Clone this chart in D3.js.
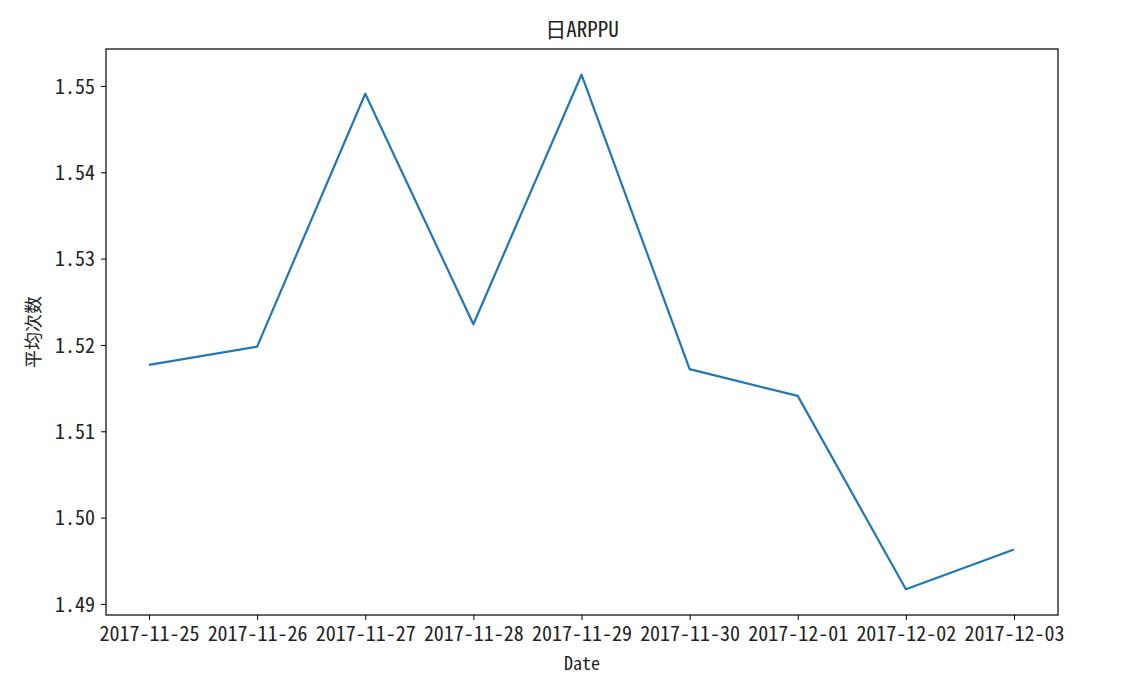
<!DOCTYPE html>
<html><head><meta charset="utf-8">
<script src="https://d3js.org/d3.v7.min.js"></script>
<style>body{margin:0;background:#fff;} text{font-family:"Noto Sans Mono CJK SC","Noto Sans CJK SC",sans-serif;fill:#222;}</style>
</head><body><svg id="c" width="1143" height="694"></svg>
<script>
const dates = ["2017-11-25","2017-11-26","2017-11-27","2017-11-28","2017-11-29","2017-11-30","2017-12-01","2017-12-02","2017-12-03"];
const values = [1.5177,1.5198,1.5491,1.5224,1.5513,1.5172,1.5141,1.4917,1.4963];
const yTicks = [1.49,1.50,1.51,1.52,1.53,1.54,1.55];
const title = "日ARPPU", xLabel = "Date", yLabel = "平均次数";

const svg = d3.select("#c");
const L=106, R=1058, T=49, B=615;
const x = d3.scalePoint().domain(dates).range([149,1014]);
const vmin=d3.min(values), vmax=d3.max(values), pad=(vmax-vmin)*0.05;
const y = d3.scaleLinear().domain([vmin-pad, vmax+pad]).range([B,T]);

const fs=20;
const xa = svg.append("g").attr("transform",`translate(0,${B})`)
  .call(d3.axisBottom(x).tickSize(5).tickPadding(7));
const ya = svg.append("g").attr("transform",`translate(${L},0)`)
  .call(d3.axisLeft(y).tickValues(yTicks).tickFormat(d3.format(".2f")).tickSize(5).tickPadding(6));
[xa,ya].forEach(a=>{a.select(".domain").remove();a.selectAll("line").attr("stroke","#000").attr("stroke-width",1);
  a.selectAll("text").attr("font-size",fs).attr("fill","#222").style("font-family",'"Noto Sans Mono CJK SC","Noto Sans CJK SC",sans-serif');});
ya.selectAll("text").attr("dy","0.36em");

svg.append("path").datum(values.map((v,i)=>[dates[i],v]))
  .attr("fill","none").attr("stroke","#1f77b4").attr("stroke-width",2.2).attr("stroke-linejoin","round")
  .attr("d",d3.line().x(d=>x(d[0])).y(d=>y(d[1])));

svg.append("rect").attr("x",L).attr("y",T).attr("width",R-L).attr("height",B-T)
  .attr("fill","none").attr("stroke","#000").attr("stroke-width",1.2);

svg.append("text").attr("x",(L+R)/2).attr("y",37).attr("text-anchor","middle").attr("font-size",21).text(title);
svg.append("text").attr("x",(L+R)/2).attr("y",670).attr("text-anchor","middle").attr("font-size",fs-2).text(xLabel);
svg.append("text").attr("transform",`translate(40,${(T+B)/2}) rotate(-90)`).attr("text-anchor","middle").attr("font-size",fs-2).text(yLabel);
</script></body></html>
